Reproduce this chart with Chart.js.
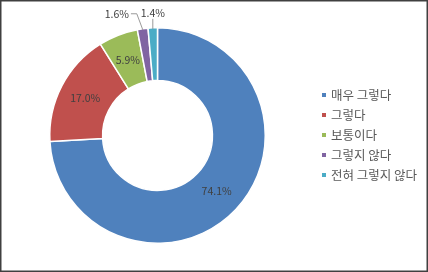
<!DOCTYPE html>
<html>
<head>
<meta charset="utf-8">
<script src="https://cdn.jsdelivr.net/npm/chart.js@4/dist/chart.umd.min.js"></script>
<style>
  html, body { margin: 0; padding: 0; background: #fff; }
  #wrap { width: 428px; height: 272px; position: relative; }
</style>
</head>
<body>
<div id="wrap"><canvas id="pieChart" width="428" height="272"></canvas></div>
<script>
const categories = ['매우 그렇다', '그렇다', '보통이다', '그렇지 않다', '전혀 그렇지 않다'];
const shares = [74.1, 17.0, 5.9, 1.6, 1.4];
const colors = ['#4F81BD', '#C0504D', '#9BBB59', '#8064A2', '#4BACC6'];

const FONT = '"Noto Sans CJK KR", "Noto Sans", sans-serif';

// small slices get their label outside, with a leader line
const outsideLabels = {
    3: { dx: -26, dy: -16, elbow: -6 },
    4: { dx: 0, dy: -16, elbow: 0 }
};

const framePlugin = {
    id: 'frame',
    afterDraw(chart) {
        const ctx = chart.ctx;
        ctx.save();
        ctx.strokeStyle = '#404040';
        ctx.lineWidth = 1.5;
        ctx.strokeRect(0.75, 0.75, chart.width - 1.5, chart.height - 1.5);
        ctx.restore();
    }
};

const labelPlugin = {
    id: 'sliceLabels',
    afterDatasetsDraw(chart) {
        const ctx = chart.ctx;
        const meta = chart.getDatasetMeta(0);
        ctx.save();
        ctx.font = '10.5px ' + FONT;
        ctx.fillStyle = '#404040';
        ctx.textAlign = 'center';
        ctx.textBaseline = 'middle';
        meta.data.forEach((arc, i) => {
            const txt = shares[i].toFixed(1) + '%';
            const mid = (arc.startAngle + arc.endAngle) / 2;
            if (outsideLabels[i]) {
                const o = outsideLabels[i];
                const ax = arc.x + Math.cos(mid) * (arc.outerRadius - 1);
                const ay = arc.y + Math.sin(mid) * (arc.outerRadius - 1);
                const lx = ax + o.dx, ly = ay + o.dy;
                ctx.strokeStyle = '#808080';
                ctx.lineWidth = 0.8;
                ctx.beginPath();
                if (o.elbow) {
                    const w = ctx.measureText(txt).width;
                    ctx.moveTo(lx + w / 2 + 2, ly);
                    ctx.lineTo(ax + o.elbow, ly);
                    ctx.lineTo(ax, ay);
                } else {
                    ctx.moveTo(ax, ly + 6);
                    ctx.lineTo(ax, ay);
                }
                ctx.stroke();
                ctx.fillText(txt, lx, ly);
            } else {
                const r = (arc.innerRadius + arc.outerRadius) / 2;
                ctx.fillText(txt, arc.x + Math.cos(mid) * r, arc.y + Math.sin(mid) * r);
            }
        });
        ctx.restore();
    }
};

const legendPlugin = {
    id: 'sideLegend',
    afterDraw(chart) {
        const ctx = chart.ctx;
        const x0 = 322, y0 = 95, step = 20;
        ctx.save();
        ctx.font = '12.5px ' + FONT;
        ctx.textAlign = 'left';
        ctx.textBaseline = 'middle';
        categories.forEach((c, i) => {
            const y = y0 + i * step;
            ctx.fillStyle = colors[i];
            ctx.fillRect(x0, y - 2, 4, 4);
            ctx.fillStyle = '#595959';
            ctx.fillText(c, x0 + 9, y);
        });
        ctx.restore();
    }
};

new Chart(document.getElementById('pieChart'), {
    type: 'doughnut',
    data: {
        labels: categories,
        datasets: [{
            data: shares,
            backgroundColor: colors,
            borderColor: '#ffffff',
            borderWidth: 1.5
        }]
    },
    options: {
        responsive: false,
        animation: false,
        cutout: '51%',
        rotation: 0,
        layout: { padding: { top: 27, bottom: 28, left: 49, right: 162 } },
        plugins: { legend: { display: false }, tooltip: { enabled: false } }
    },
    plugins: [labelPlugin, legendPlugin, framePlugin]
});
</script>
</body>
</html>
